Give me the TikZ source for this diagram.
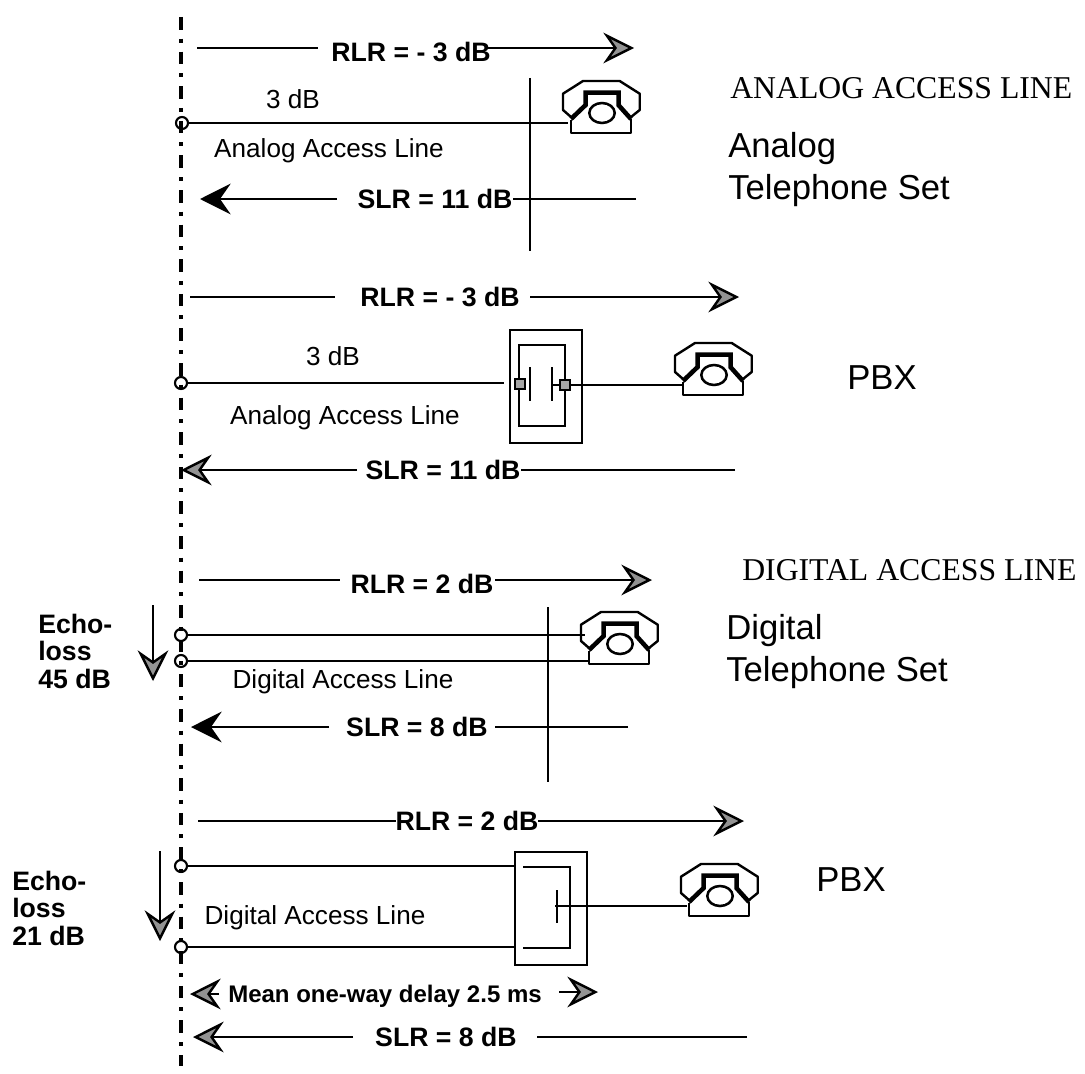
\documentclass[tikz,border=0pt]{standalone}
\usepackage{fontspec}
\setmainfont{Liberation Sans}
\newfontfamily\timesf{Liberation Serif}
\usetikzlibrary{arrows.meta}
\tikzset{
  wire/.style={line width=1.6pt,draw=black},
  graytip/.style={-{Stealth[length=23pt,width=23pt,inset=8pt,fill=gray!85,line width=1.8pt]}},
  blacktip/.style={-{Stealth[length=23pt,width=23pt,inset=8pt,fill=black,line width=1.8pt]}},
  rule/.style={line width=1.4pt,draw=black},
  blab/.style={font=\fontsize{20}{20.5}\selectfont\bfseries,inner sep=0pt,align=left},
  slab/.style={font=\fontsize{19.6}{22}\selectfont,inner sep=0pt},
  big/.style={font=\fontsize{26}{31.5}\selectfont,inner sep=0pt,align=left},
  serif/.style={font=\fontsize{23.8}{26}\timesf,inner sep=0pt},
  tap/.style={circle,draw=black,line width=1.6pt,minimum size=9pt,inner sep=0pt},
  sq/.style={rectangle,draw=black,line width=1.5pt,fill=gray!70,minimum size=7.5pt,inner sep=0pt},
  phone/.pic={
    \draw[line width=1.8pt,line join=round] (8,36)--(0,29)--(0,12.7)--(20,0)--(56.7,0)--(76.7,12.7)--(76.7,29)--(68,36);
    \draw[line width=1.8pt,line join=round] (8,39)--(8,52)--(68,52)--(68,38);
    \draw[line width=3.4pt,line join=miter] (8,38)--(22.6,24)--(22.6,11.7)--(55.7,11.7)--(55.7,24.3)--(68,38);
    \draw[line width=1.9pt] (39,32) ellipse [x radius=12.7,y radius=10];
  }
}
\begin{document}
\begin{tikzpicture}[x=0.75pt,y=-0.75pt]
\useasboundingbox (0,0) rectangle (1085,1074);
\fill[white] (0,0) rectangle (1085,1074);
% reference line
\coordinate (axt) at (181,17);
\coordinate (axb) at (181,1066);
\draw[line width=3pt,dash pattern=on 9.45pt off 6.75pt on 3pt off 6.75pt] (axt)--(axb);

% ---- analog telephone set
\node[blab] (r1) at (411,52) {RLR = - 3 dB};
\coordinate (r1a) at (197,48); \coordinate (r1b) at (634,48);
\draw[rule] (r1a)--(318,48);
\draw[rule,graytip] (487,48)--(r1b);
\node[tap] (t1) at (182,123) {};
\coordinate (p1) at (563,81);
\draw[wire] (t1)--(568,123);
\draw[wire] (530,78)--(530,251);
\pic at (p1) {phone};
\node[slab] (l1) at (293,99) {3 dB};
\node[slab] (l2) at (329,151) {Analog Access Line};
\node[blab] (s1) at (435,199) {SLR = 11 dB};
\draw[rule] (636,199)--(513,199);
\draw[rule,blacktip] (337,199)--(200,199);
\node[serif,anchor=west] (h1) at (730,88) {ANALOG ACCESS LINE};
\node[big,anchor=west] (n1) at (728,170) {Analog\\Telephone Set};

% ---- PBX analog
\node[blab] (r2) at (440,297) {RLR = - 3 dB};
\draw[rule] (190,297)--(335,297);
\draw[rule,graytip] (530,297)--(739,297);
\node[tap] (t2) at (181,383) {};
\draw[wire] (t2)--(504,383);
\draw[line width=1.8pt] (510,330) rectangle (582,443);
\draw[line width=1.6pt] (519,345) rectangle (565,426);
\draw[line width=1.6pt] (530,367)--(530,401);
\draw[line width=1.6pt] (552,367)--(552,401);
\node[sq] (q1) at (520,384) {};
\node[sq] (q2) at (565,385) {};
\coordinate (p2) at (675,343);
\draw[wire] (552,385)--(q2)--(682,385);
\pic at (p2) {phone};
\node[slab] (l3) at (333,356) {3 dB};
\node[slab] (l4) at (345,418) {Analog Access Line};
\node[blab] (s2) at (443,470) {SLR = 11 dB};
\draw[rule] (735,470)--(521,470);
\draw[rule,graytip] (357,470)--(181,470);
\node[big] (n2) at (882,378) {PBX};

% ---- digital telephone set
\node[serif,anchor=west] (h2) at (742,570) {DIGITAL ACCESS LINE};
\node[blab] (r3) at (422,584) {RLR = 2 dB};
\draw[rule] (199,580)--(340,580);
\draw[rule,graytip] (495,580)--(652,580);
\node[tap] (t3) at (181,635) {};
\node[tap] (t4) at (181,661) {};
\coordinate (p3) at (581,612);
\draw[wire] (t3)--(585,635);
\draw[wire] (t4)--(589,661);
\draw[wire] (548,607)--(548,782);
\pic at (p3) {phone};
\node[slab] (l5) at (343,682) {Digital Access Line};
\node[blab] (s3) at (417,727) {SLR = 8 dB};
\draw[rule] (628,727)--(495,727);
\draw[rule,blacktip] (329,727)--(191,727);
\node[big,anchor=west] (n3) at (726,652) {Digital\\Telephone Set};
\node[blab,anchor=north west] (e1) at (38,614) {Echo-\\loss\\45 dB};
\draw[rule,graytip] (153,605)--(153,681);

% ---- PBX digital
\node[blab] (r4) at (467,821) {RLR = 2 dB};
\draw[rule] (198,821)--(396,821);
\draw[rule,graytip] (538,821)--(744,821);
\node[tap] (t5) at (181,866) {};
\node[tap] (t6) at (181,947) {};
\draw[wire] (t5)--(515,866);
\draw[wire] (t6)--(515,947);
\draw[line width=1.8pt] (515,852) rectangle (587,965);
\draw[line width=1.6pt] (523,867)--(570,867)--(570,948)--(523,948);
\draw[line width=1.6pt] (557,890)--(557,923);
\coordinate (p4) at (681,864);
\draw[wire] (555,906)--(687,906);
\pic at (p4) {phone};
\node[slab] (l6) at (315,918) {Digital Access Line};
\node[big] (n4) at (851,880) {PBX};
\node[blab,anchor=north west] (e2) at (12,871) {Echo-\\loss\\21 dB};
\draw[rule,graytip] (160,851)--(160,941);
\node[blab,font=\fontsize{18}{20}\selectfont\bfseries] (d) at (385,996) {Mean one-way delay 2.5 ms};
\coordinate (dl) at (219,994);
\draw[rule,graytip] (dl)--(190,994);
\draw[rule,graytip] (559,992)--(598,992);
\node[blab] (s4) at (446,1037) {SLR = 8 dB};
\draw[rule] (747,1037)--(537,1037);
\draw[rule,graytip] (353,1037)--(193,1037);
\end{tikzpicture}
\end{document}
